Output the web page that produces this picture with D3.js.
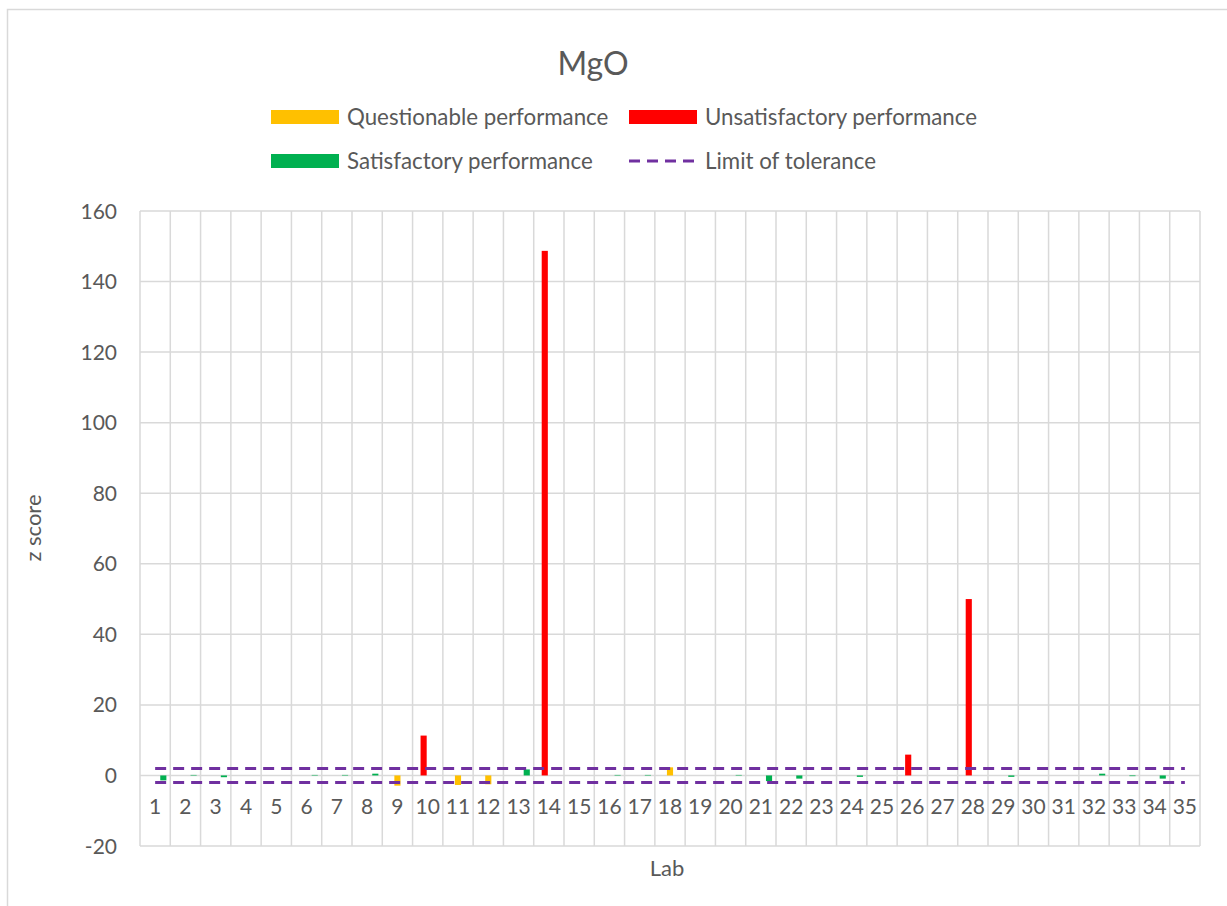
<!DOCTYPE html>
<html>
<head>
<meta charset="utf-8">
<script src="https://cdn.jsdelivr.net/npm/d3@7"></script>
<style>
  body { margin: 0; background: #fff; }
  text { font-family: Lato, "Open Sans", sans-serif; fill: #595959; }
</style>
</head>
<body>
<svg id="chart"></svg>
<script>
const labs = d3.range(1, 36).map(String);
const yTicks = [-20, 0, 20, 40, 60, 80, 100, 120, 140, 160];
// z scores per lab, by performance class (null = no bar)
const questionable = { 9: -2.9, 11: -2.7, 12: -2.5, 18: 2.3 };
const unsatisfactory = { 10: 11.3, 14: 148.7, 26: 5.9, 28: 50.0 };
const satisfactory = {
  1: -1.4, 2: 0.15, 3: -0.5, 6: 0.15, 7: 0.15, 8: 0.5, 13: 1.7, 16: 0.15, 17: 0.15,
  20: 0.15, 21: -1.6, 22: -0.9, 24: -0.4, 29: -0.4, 32: 0.5, 33: -0.2, 34: -0.9,
};
const upperLimit = 2;
const lowerLimit = -2;

const series = [
  { name: "Questionable performance", values: questionable, color: "#FFC000", slot: 0 },
  { name: "Unsatisfactory performance", values: unsatisfactory, color: "#FF0000", slot: -1 },
  { name: "Satisfactory performance", values: satisfactory, color: "#00B050", slot: 2 },
];

const W = 1227, H = 906;
const svg = d3.select("#chart").attr("width", W).attr("height", H);

// chart frame
svg.append("rect")
  .attr("x", 7.5).attr("y", 9.5)
  .attr("width", 1240).attr("height", 920)
  .attr("fill", "#fff").attr("stroke", "#d9d9d9").attr("stroke-width", 1.5);

const x = d3.scaleBand().domain(labs).range([140, 1200]).padding(0);
const y = d3.scaleLinear().domain([-20, 160]).range([846, 211]);

const grid = svg.append("g").attr("class", "grid");
grid.selectAll(".hgrid")
  .data(yTicks)
  .enter()
  .append("line")
  .attr("x1", 140).attr("x2", 1200)
  .attr("y1", (d) => y(d)).attr("y2", (d) => y(d))
  .attr("stroke", "#d9d9d9").attr("stroke-width", 1.5);
grid.selectAll(".vgrid")
  .data(labs.concat(["end"]))
  .enter()
  .append("line")
  .attr("x1", (d) => (d === "end" ? 1200 : x(d)))
  .attr("x2", (d) => (d === "end" ? 1200 : x(d)))
  .attr("y1", y(160)).attr("y2", y(-20))
  .attr("stroke", "#d9d9d9").attr("stroke-width", 1.5);

// y axis labels
svg.append("g")
  .selectAll("text")
  .data(yTicks)
  .enter()
  .append("text")
  .attr("x", 117)
  .attr("y", (d) => y(d))
  .attr("dy", "0.36em")
  .attr("text-anchor", "end")
  .attr("font-size", 21)
  .text((d) => d);

// x axis labels
svg.append("g")
  .selectAll("text")
  .data(labs)
  .enter()
  .append("text")
  .attr("x", (d) => x(d) + x.bandwidth() / 2)
  .attr("y", 806)
  .attr("dy", "0.36em")
  .attr("text-anchor", "middle")
  .attr("font-size", 21)
  .text((d) => d);

// bars
const step = x.bandwidth() * 0.135;
const barW = step * 1.5;
series.forEach((s) => {
  const rows = labs.filter((l) => s.values[l] != null).map((l) => ({ lab: l, v: s.values[l] }));
  svg.append("g")
    .selectAll("rect")
    .data(rows)
    .enter()
    .append("rect")
    .attr("x", (d) => x(d.lab) + x.bandwidth() / 2 + s.slot * step - barW / 2)
    .attr("width", barW)
    .attr("y", (d) => y(Math.max(0, d.v)))
    .attr("height", (d) => Math.abs(y(d.v) - y(0)))
    .attr("fill", s.color);
});

// limit of tolerance lines
const line = d3.line()
  .x((d) => x(d.lab) + x.bandwidth() / 2)
  .y((d) => y(d.v));
[upperLimit, lowerLimit].forEach((lim) => {
  svg.append("path")
    .datum(labs.map((l) => ({ lab: l, v: lim })))
    .attr("d", line)
    .attr("fill", "none")
    .attr("stroke", "#7030A0")
    .attr("stroke-width", 3)
    .attr("stroke-dasharray", "11,7");
});

// title and axis titles
svg.append("text")
  .attr("x", 593).attr("y", 63).attr("dy", "0.36em")
  .attr("text-anchor", "middle").attr("font-size", 32)
  .text("MgO");
svg.append("text")
  .attr("transform", "translate(33,528) rotate(-90)")
  .attr("dy", "0.36em")
  .attr("text-anchor", "middle").attr("font-size", 22)
  .text("z score");
svg.append("text")
  .attr("x", 667).attr("y", 868).attr("dy", "0.36em")
  .attr("text-anchor", "middle").attr("font-size", 22)
  .text("Lab");

// legend
const legendItems = [
  { name: series[0].name, color: series[0].color, type: "bar", lx: 271, ly: 117 },
  { name: series[1].name, color: series[1].color, type: "bar", lx: 629, ly: 117 },
  { name: series[2].name, color: series[2].color, type: "bar", lx: 271, ly: 161 },
  { name: "Limit of tolerance", color: "#7030A0", type: "line", lx: 629, ly: 161 },
];
const legend = svg.append("g").attr("class", "legend");
legendItems.forEach((it) => {
  if (it.type === "bar") {
    legend.append("rect")
      .attr("x", it.lx).attr("y", it.ly - 7)
      .attr("width", 68).attr("height", 14)
      .attr("fill", it.color);
  } else {
    legend.append("line")
      .attr("x1", it.lx).attr("x2", it.lx + 68)
      .attr("y1", it.ly).attr("y2", it.ly)
      .attr("stroke", it.color).attr("stroke-width", 3)
      .attr("stroke-dasharray", "11,7");
  }
  legend.append("text")
    .attr("x", it.lx + 76).attr("y", it.ly).attr("dy", "0.36em")
    .attr("font-size", 22.3)
    .text(it.name);
});
</script>
</body>
</html>
